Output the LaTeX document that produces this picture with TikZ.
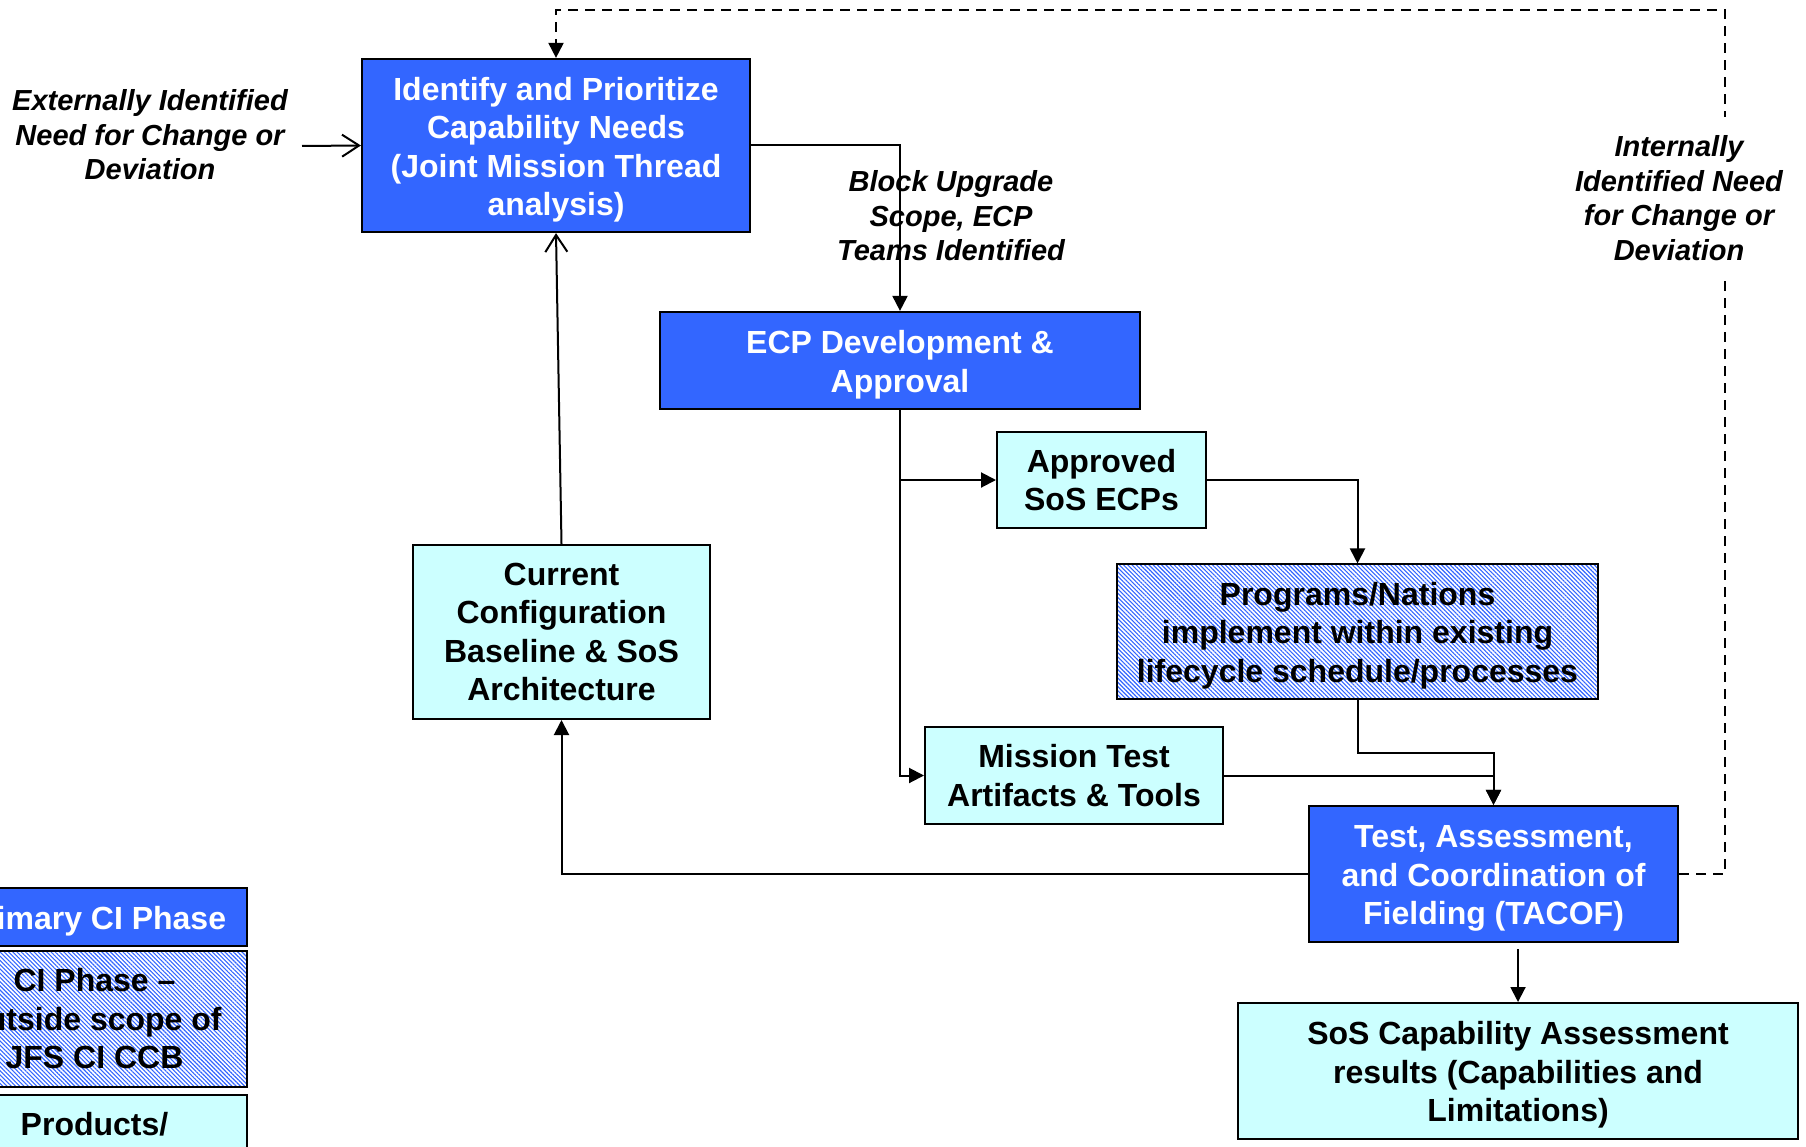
\documentclass[tikz,border=0pt]{standalone}
\usepackage{fontspec}
\setmainfont{Liberation Sans}
\usetikzlibrary{arrows.meta,patterns.meta}
\definecolor{boxblue}{HTML}{3366FF}
\definecolor{boxcyan}{HTML}{CCFFFF}
% a tall first line sets a box's text a little lower
\newcommand{\lowstrut}{\rule{0pt}{31.5pt}}

\begin{document}
\begin{tikzpicture}[x=1pt,y=-1pt,
  every node/.style={inner sep=0pt, align=center},
  boxtext/.style={font=\fontsize{32}{38.5}\selectfont\bfseries},
  phase/.style={boxtext, draw=black, line width=2.2pt, fill=boxblue, text=white},
  product/.style={boxtext, draw=black, line width=2pt, fill=boxcyan, text=black},
  outside/.style={boxtext, draw=black, line width=2.2pt, text=black,
    pattern={Lines[angle=-45,distance=3pt,line width=1.1pt]}, pattern color=boxblue},
  note/.style={font=\fontsize{29}{34.5}\selectfont\bfseries\itshape},
  link/.style={line width=2pt, -{Triangle[length=15pt,width=15pt]}},
  openlink/.style={line width=2pt, -{Straight Barb[length=17pt,width=22pt,line width=2pt]}},
  feedback/.style={link, dash pattern=on 10pt off 7pt}
]
\useasboundingbox (0,0) rectangle (1806,1147);
\begin{scope}
\clip (0,0) rectangle (1806,1147);

% process boxes
\node[phase, minimum width=388, minimum height=173] (ident) at (556,145.5)
  {\lowstrut Identify and Prioritize\\Capability Needs\\(Joint Mission Thread\\analysis)};
\node[phase, minimum width=480, minimum height=97] (ecp) at (900,360.5)
  {\lowstrut ECP Development \&\\Approval};
\node[product, minimum width=209, minimum height=96] (appr) at (1101.5,480)
  {Approved\\SoS ECPs};
\node[outside, minimum width=481, minimum height=135] (prog) at (1357.5,631.5)
  {\lowstrut Programs/Nations\\implement within existing\\lifecycle schedule/processes};
\node[product, minimum width=297, minimum height=174] (curr) at (561.5,632)
  {Current\\Configuration\\Baseline \& SoS\\Architecture};
\node[product, minimum width=298, minimum height=97] (miss) at (1074,775.5)
  {Mission Test\\Artifacts \& Tools};
\node[phase, minimum width=369, minimum height=136] (tacof) at (1493.5,874)
  {\lowstrut Test, Assessment,\\and Coordination of\\Fielding (TACOF)};
\node[product, minimum width=560, minimum height=136] (sos) at (1518,1071)
  {\lowstrut SoS Capability Assessment\\results (Capabilities and\\Limitations)};

% legend
\node[phase, minimum width=305, minimum height=58] (lgprim) at (94.5,917)
  {\lowstrut Primary CI Phase};
\node[outside, minimum width=305, minimum height=136] (lgout) at (94.5,1019)
  {CI Phase --\\outside scope of\\JFS CI CCB};
\node[product, minimum width=305, minimum height=58] (lgprod) at (94.5,1124)
  {Products/};

% labels
\node[note] (extlbl) at (150,135)
  {Externally Identified\\Need for Change or\\Deviation};
\coordinate (extstart) at (302,146);
\node[note] (blocklbl) at (951,216)
  {Block Upgrade\\Scope, ECP\\Teams Identified};

% connectors
\draw[openlink] (extstart) -- (ident.west);
\draw[link] (ident.east) -| (ecp.north);
\draw[link] (ecp.south) |- (miss.west);
\draw[link] (ecp.south |- appr.west) -- (appr.west);
\draw[link] (appr.east) -| (prog.north);
\coordinate (progbend) at (1357.5,753);
\draw[link] (prog.south) -- (progbend) -| (tacof.north);
\draw[link] (miss.east) -| (tacof.north);
\draw[link] (tacof.west) -| (curr.south);
\draw[openlink] (curr.north) -- (ident.south);
\draw[link] ([yshift=-6pt]tacof.south -| sos.north) -- (sos.north);

% internal feedback loop
\coordinate (loopcorner) at (1725,10);
\draw[feedback] (tacof.east) -| (loopcorner) -| (ident.north);
\node[note, fill=white, minimum width=220, minimum height=161] (intlbl) at (1679,198)
  {Internally\\Identified Need\\for Change or\\Deviation};
\end{scope}
\end{tikzpicture}
\end{document}
